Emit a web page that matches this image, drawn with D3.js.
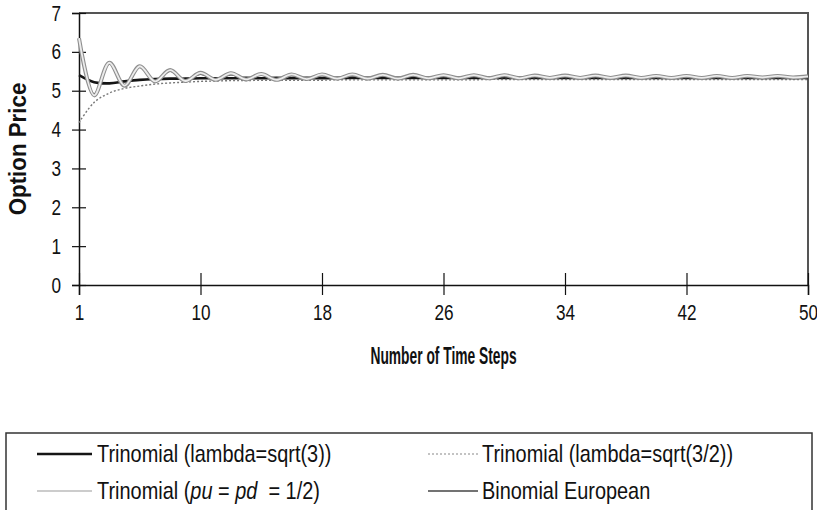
<!DOCTYPE html>
<html>
<head>
<meta charset="utf-8">
<script src="https://cdn.jsdelivr.net/npm/d3@7"></script>
<style>
  body { margin: 0; background: #fff; }
  svg { display: block; }
</style>
</head>
<body>
<svg id="chart" width="817" height="510"></svg>
<script>
// Number of time steps (category axis)
const steps = [1, 3, 4, 5, 6, 7, 8, 9, 10, 11,
  12, 13, 14, 15, 16, 17, 18, 19, 20, 21,
  22, 23, 24, 25, 26, 27, 28, 29, 30, 31,
  32, 33, 34, 35, 36, 37, 38, 39, 40, 41,
  42, 43, 44, 45, 46, 47, 48, 49, 50];
const tickSteps = [1, 10, 18, 26, 34, 42, 50];
const yTicks = [0, 1, 2, 3, 4, 5, 6, 7];

// Option prices per model
const trinomialSqrt3 = [5.40, 5.22, 5.19, 5.24, 5.28, 5.30, 5.31, 5.31, 5.32, 5.32,
  5.32, 5.33, 5.32, 5.33, 5.32, 5.33, 5.32, 5.33, 5.33, 5.33,
  5.33, 5.33, 5.33, 5.33, 5.33, 5.33, 5.33, 5.33, 5.33, 5.33,
  5.33, 5.33, 5.33, 5.33, 5.33, 5.33, 5.33, 5.33, 5.33, 5.33,
  5.33, 5.33, 5.33, 5.33, 5.33, 5.33, 5.33, 5.33, 5.33];
const trinomialSqrt32 = [4.18, 4.70, 4.94, 5.06, 5.12, 5.17, 5.20, 5.22, 5.24, 5.25,
  5.26, 5.26, 5.27, 5.27, 5.27, 5.27, 5.27, 5.28, 5.28, 5.28,
  5.28, 5.28, 5.28, 5.28, 5.28, 5.28, 5.28, 5.29, 5.29, 5.29,
  5.29, 5.29, 5.29, 5.29, 5.29, 5.29, 5.29, 5.29, 5.29, 5.29,
  5.29, 5.29, 5.29, 5.29, 5.29, 5.29, 5.29, 5.29, 5.29];
const trinomialHalf = [6.35, 4.88, 5.72, 5.13, 5.63, 5.24, 5.53, 5.25, 5.46, 5.28,
  5.45, 5.29, 5.43, 5.28, 5.42, 5.30, 5.42, 5.31, 5.42, 5.31,
  5.41, 5.31, 5.41, 5.32, 5.40, 5.32, 5.40, 5.32, 5.40, 5.32,
  5.39, 5.33, 5.39, 5.33, 5.39, 5.33, 5.39, 5.33, 5.38, 5.33,
  5.38, 5.33, 5.38, 5.33, 5.38, 5.34, 5.38, 5.34, 5.37];
const binomialEuropean = [6.30, 4.92, 5.69, 5.14, 5.60, 5.24, 5.50, 5.27, 5.42, 5.28,
  5.41, 5.29, 5.40, 5.29, 5.39, 5.30, 5.39, 5.30, 5.38, 5.30,
  5.38, 5.31, 5.38, 5.31, 5.37, 5.31, 5.37, 5.31, 5.37, 5.31,
  5.37, 5.31, 5.36, 5.31, 5.36, 5.31, 5.36, 5.31, 5.36, 5.31,
  5.36, 5.31, 5.36, 5.31, 5.36, 5.31, 5.36, 5.31, 5.35];

// condensed sans: regular face squeezed horizontally
const FONT = '"Liberation Sans", Arial, sans-serif';
const svg = d3.select("#chart");
const plot = { left: 79, right: 808, top: 13, bottom: 285 };

const x = d3.scalePoint().domain(steps).range([plot.left, plot.right]);
const y = d3.scaleLinear().domain([0, 7]).range([plot.bottom, plot.top]);

// plot frame (top and right edges)
svg.append("path")
  .attr("d", `M${plot.left},${plot.top}H${plot.right}V${plot.bottom}`)
  .attr("fill", "none").attr("stroke", "#555").attr("stroke-width", 2);

// y axis with ticks crossing the line
const yAxis = svg.append("g")
  .attr("transform", `translate(${plot.left},0)`)
  .call(d3.axisLeft(y).tickValues(yTicks).tickFormat(d3.format("d")).tickSize(7));
yAxis.selectAll(".tick line").attr("x1", -7).attr("x2", 7);
yAxis.selectAll(".tick text")
  .attr("x", 0)
  .attr("transform", "translate(-18,0) scale(0.78,1)");

// x axis with ticks crossing the line
const xAxis = svg.append("g")
  .attr("transform", `translate(0,${plot.bottom})`)
  .call(d3.axisBottom(x).tickValues(tickSteps).tickSize(10).tickPadding(9));
xAxis.selectAll(".tick line").attr("y1", -12).attr("y2", 10);
xAxis.selectAll(".tick text").attr("transform", "scale(0.78,1)");

[yAxis, xAxis].forEach(g => {
  g.select(".domain").attr("stroke", "#111").attr("stroke-width", 1.5);
  g.selectAll(".tick line").attr("stroke", "#111").attr("stroke-width", 1.2);
  g.selectAll(".tick text").attr("font-family", FONT).attr("font-size", 22).attr("fill", "#111");
});

// axis titles
svg.append("text")
  .attr("transform", `translate(${(plot.left + plot.right) / 2},364) scale(0.6,1)`)
  .attr("text-anchor", "middle")
  .attr("font-family", FONT).attr("font-weight", "bold").attr("font-size", 23).attr("fill", "#111")
  .text("Number of Time Steps");
svg.append("text")
  .attr("transform", `translate(26,${(plot.top + plot.bottom) / 2}) rotate(-90) scale(0.93,1)`)
  .attr("text-anchor", "middle")
  .attr("font-family", FONT).attr("font-weight", "bold").attr("font-size", 24).attr("fill", "#111")
  .text("Option Price");

const line = d3.line()
  .x((d, i) => x(steps[i]))
  .y(d => y(d))
  .curve(d3.curveCatmullRom.alpha(0.5));

// Trinomial lambda = sqrt(3)
svg.append("path").datum(trinomialSqrt3)
  .attr("d", line).attr("fill", "none")
  .attr("stroke", "#151515").attr("stroke-width", 2.6);

// Trinomial lambda = sqrt(3/2)
svg.append("path").datum(trinomialSqrt32)
  .attr("d", line).attr("fill", "none")
  .attr("stroke", "#777").attr("stroke-width", 1.4).attr("stroke-dasharray", "2,2");

// Binomial European
svg.append("path").datum(binomialEuropean)
  .attr("d", line).attr("fill", "none")
  .attr("stroke", "#333").attr("stroke-width", 1.3);

// Trinomial pu = pd = 1/2 (light line with darker edges)
svg.append("path").datum(trinomialHalf)
  .attr("d", line).attr("fill", "none")
  .attr("stroke", "#8e8e8e").attr("stroke-width", 4);
svg.append("path").datum(trinomialHalf)
  .attr("d", line).attr("fill", "none")
  .attr("stroke", "#ececec").attr("stroke-width", 1.8);

// legend
const legend = svg.append("g");
legend.append("rect")
  .attr("x", 6).attr("y", 433).attr("width", 806).attr("height", 100)
  .attr("fill", "#fff").attr("stroke", "#333").attr("stroke-width", 1.5);

const legendItems = [
  { x1: 37, x2: 92, y: 454, stroke: "#151515", width: 2.6, dash: null },
  { x1: 428, x2: 478, y: 454, stroke: "#888", width: 1.2, dash: "2,2" },
  { x1: 37, x2: 92, y: 491, stroke: "#bbb", width: 1.6, dash: null },
  { x1: 428, x2: 478, y: 491, stroke: "#444", width: 1.3, dash: null }
];
legend.selectAll("line.sample").data(legendItems).enter().append("line")
  .attr("class", "sample")
  .attr("x1", d => d.x1).attr("x2", d => d.x2)
  .attr("y1", d => d.y).attr("y2", d => d.y)
  .attr("stroke", d => d.stroke).attr("stroke-width", d => d.width)
  .attr("stroke-dasharray", d => d.dash);

const lt = (tx, ty) => legend.append("text")
  .attr("transform", `translate(${tx},${ty}) scale(0.83,1)`)
  .attr("font-family", FONT).attr("font-size", 24).attr("fill", "#111");

lt(97, 462).text("Trinomial (lambda=sqrt(3))");
lt(482, 462).text("Trinomial (lambda=sqrt(3/2))");
const t3 = lt(97, 499);
t3.append("tspan").text("Trinomial (");
t3.append("tspan").attr("font-style", "italic").text("pu");
t3.append("tspan").text(" = ");
t3.append("tspan").attr("font-style", "italic").text("pd");
t3.append("tspan").attr("xml:space", "preserve").text("  = 1/2)");
lt(482, 499).text("Binomial European");
</script>
</body>
</html>
